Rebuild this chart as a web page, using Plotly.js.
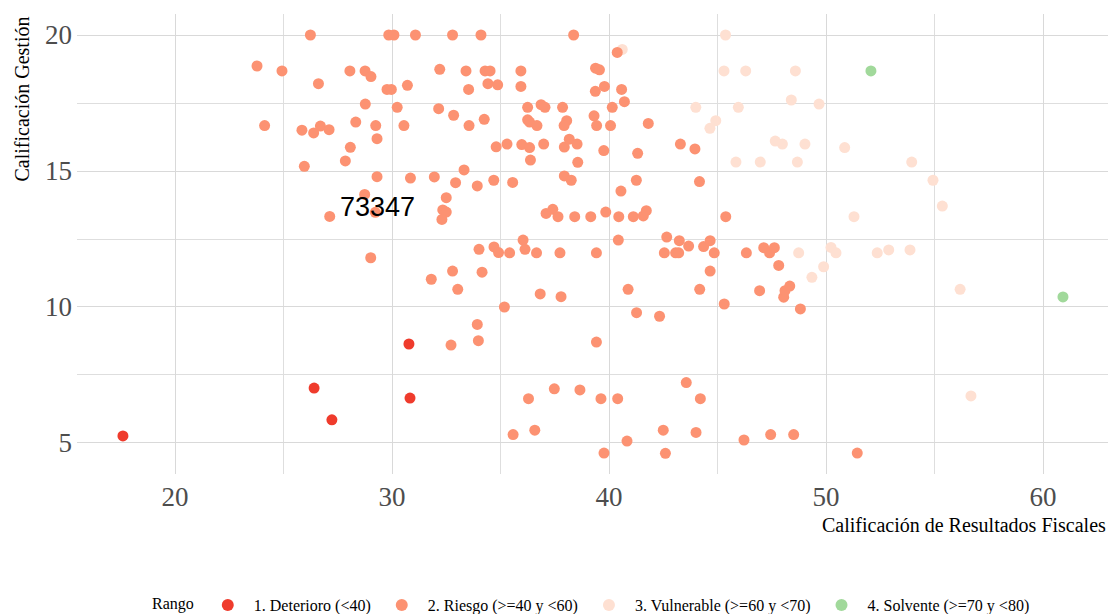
<!DOCTYPE html>
<html>
<head>
<meta charset="utf-8">
<script src="https://cdn.plot.ly/plotly-3.0.1.min.js"></script>
<style>html,body{margin:0;padding:0;background:#fff;}</style>
</head>
<body>
<div id="chart" style="width:1112px;height:614px;"></div>
<script>
// Categories / legend labels
const categories = ["1. Deterioro (<40)", "2. Riesgo (>=40 y <60)", "3. Vulnerable (>=60 y <70)", "4. Solvente (>=70 y <80)"];

// 1. Deterioro
const deterioroX = [17.60, 26.41, 27.23, 30.78, 30.83];
const deterioroY = [5.26, 7.02, 5.85, 8.64, 6.65];

// 4. Solvente
const solventeX = [52.07, 60.92];
const solventeY = [18.68, 10.37];

// 3. Vulnerable
const vulnerableX = [45.37, 40.61, 45.30, 46.30, 48.59, 44.00, 45.96, 48.40, 49.68, 44.92, 44.65, 47.66, 47.99, 49.03, 50.86, 45.85, 46.97, 48.68, 53.95, 54.93, 55.36, 51.29, 48.74, 50.23, 50.46, 52.36, 52.89, 53.87, 49.89, 49.35, 56.18, 56.68];
const vulnerableY = [20.00, 19.47, 18.68, 18.68, 18.68, 17.34, 17.34, 17.61, 17.46, 16.85, 16.57, 16.10, 15.99, 15.99, 15.86, 15.33, 15.33, 15.33, 15.33, 14.66, 13.71, 13.32, 11.99, 12.19, 11.99, 11.99, 12.10, 12.10, 11.48, 11.09, 10.65, 6.73];

// 2. Riesgo
const riesgoX = [
  26.24, 23.78, 24.93, 26.61, 28.06, 28.76, 29.03, 28.77, 24.13, 25.85, 26.39, 26.70, 27.10, 28.33, 29.25, 29.31, 28.08, 27.85, 25.96, 29.31, 28.74, 27.13, 29.23, 29.02,
  29.85, 30.09, 31.08, 32.79, 34.10, 38.37, 40.38, 32.20, 33.41, 34.29, 34.52, 35.94, 39.38, 39.56, 29.77, 29.97, 30.71, 33.53, 34.42, 34.87, 35.94, 39.37, 39.79, 40.58, 40.71, 40.15,
  30.24, 32.15, 32.84, 34.25, 33.55, 30.55, 36.25, 36.87, 37.05, 37.86, 36.25, 36.34, 36.68, 38.05, 37.93, 39.31, 39.43, 40.07, 41.81,
  34.80, 35.30, 35.98, 36.34, 36.38, 36.99, 37.94, 38.17, 38.53, 38.56, 39.76, 41.32, 43.29, 43.96,
  30.85, 31.95, 33.32, 32.93, 33.93, 34.69, 35.56, 37.94, 38.26, 40.55, 41.26, 44.17,
  32.50, 32.34, 32.50, 32.30, 37.10, 37.41, 37.65, 38.42, 39.16, 39.85, 40.45, 41.12, 41.58, 41.72, 45.38,
  36.04, 36.13, 34.01, 34.70, 34.91, 35.42, 36.66, 37.74, 39.42, 40.43, 42.66, 43.24, 43.67, 42.55, 43.07, 43.21, 44.36, 44.66, 44.85, 46.33,
  44.66, 44.18, 45.31, 31.81, 32.79, 33.03, 34.15, 36.83, 37.79, 40.88,
  35.18, 41.27, 42.33, 33.93, 32.72, 33.98, 39.42, 36.29, 37.48, 38.66, 39.63, 40.40, 43.56, 44.21, 35.58, 36.58, 39.77, 40.83, 42.50, 42.60, 44.01, 46.22,
  46.94, 48.05, 48.11, 48.33, 48.82, 47.45, 48.51, 51.44, 47.13, 47.40, 47.62, 47.82
];
const riesgoY = [
  20.00, 18.86, 18.68, 18.21, 18.68, 18.68, 18.47, 17.46, 16.67, 16.50, 16.40, 16.65, 16.52, 16.80, 16.67, 16.19, 15.87, 15.37, 15.17, 14.79, 14.14, 13.33, 13.48, 11.81,
  20.00, 20.00, 20.00, 20.00, 20.00, 20.00, 19.36, 18.74, 18.68, 18.68, 18.68, 18.68, 18.78, 18.72, 18.00, 18.00, 18.15, 18.00, 18.21, 18.17, 18.11, 17.93, 18.11, 18.00, 17.55, 17.34,
  17.34, 17.29, 17.05, 16.90, 16.67, 16.67, 17.34, 17.44, 17.34, 17.34, 16.88, 16.80, 16.67, 16.85, 16.67, 17.03, 16.67, 16.67, 16.75,
  15.89, 15.99, 15.97, 15.86, 15.40, 15.99, 15.88, 16.17, 15.99, 15.32, 15.75, 15.65, 15.99, 15.81,
  14.74, 14.78, 15.04, 14.57, 14.45, 14.66, 14.58, 14.82, 14.66, 14.26, 14.66, 14.61,
  14.02, 13.57, 13.49, 13.22, 13.44, 13.59, 13.32, 13.32, 13.32, 13.49, 13.32, 13.32, 13.35, 13.54, 13.32,
  12.46, 12.12, 12.12, 12.21, 12.00, 11.99, 11.99, 11.99, 11.99, 12.46, 12.57, 12.44, 12.24, 11.99, 11.99, 11.99, 12.22, 12.44, 11.99, 11.99,
  11.32, 10.65, 10.11, 11.02, 11.32, 10.65, 11.28, 10.48, 10.38, 10.65,
  10.00, 9.79, 9.66, 9.36, 8.60, 8.76, 8.71, 6.63, 6.99, 6.95, 6.63, 6.63, 7.22, 6.63, 5.31, 5.47, 4.63, 5.07, 5.47, 4.62, 5.39, 5.11,
  10.60, 10.36, 10.60, 10.77, 9.93, 5.31, 5.31, 4.63, 12.18, 11.99, 12.18, 11.53
];

// Text label
const labelText = "73347";
const labelX = 29.35;
const labelY = 13.68;

const xTicks = [20, 30, 40, 50, 60];
const yTicks = [5, 10, 15, 20];

const colors = ["#EF3B2C", "#FC9272", "#FEE0D2", "#A1D99B"];
const serif = "Liberation Serif, Times New Roman, serif";

function tr(x, y, i, rank) {
  return {
    type: "scatter", mode: "markers", x: x, y: y, name: categories[i],
    legendrank: rank,
    marker: {color: colors[i], size: 11, line: {width: 0}},
    hoverinfo: "x+y"
  };
}

const data = [
  tr(vulnerableX, vulnerableY, 2, 3),
  tr(riesgoX, riesgoY, 1, 2),
  tr(deterioroX, deterioroY, 0, 1),
  tr(solventeX, solventeY, 3, 4)
];

const layout = {
  width: 1112, height: 614,
  margin: {l: 77, r: 4, t: 14, b: 140, autoexpand: false},
  paper_bgcolor: "#fff", plot_bgcolor: "#fff",
  showlegend: true,
  legend: {
    orientation: "h", x: 0.5, xanchor: "center", y: -0.2848, yanchor: "middle",
    font: {family: serif, size: 16, color: "#000"},
    title: {text: "Rango", side: "left", font: {family: serif, size: 16, color: "#000"}},
    itemsizing: "constant", traceorder: "normal", itemwidth: 42
  },
  xaxis: {
    range: [15.484, 62.995],
    tickmode: "array", tickvals: xTicks, ticktext: xTicks.map(String),
    showgrid: true, gridcolor: "#d9d9d9", gridwidth: 1,
    minor: {dtick: 5, tick0: 0, showgrid: true, gridcolor: "#dedede", gridwidth: 1, ticks: ""},
    zeroline: false, showline: false, ticks: "",
    ticklabelstandoff: 4,
    tickfont: {family: serif, size: 27, color: "#4D4D4D"}
  },
  yaxis: {
    range: [3.86, 20.772],
    tickmode: "array", tickvals: yTicks, ticktext: yTicks.map(String),
    showgrid: true, gridcolor: "#d9d9d9", gridwidth: 1,
    minor: {dtick: 2.5, tick0: 0, showgrid: true, gridcolor: "#dedede", gridwidth: 1, ticks: ""},
    zeroline: false, showline: false, ticks: "",
    ticklabelstandoff: 4,
    tickfont: {family: serif, size: 27, color: "#4D4D4D"}
  },
  annotations: [
    {text: labelText, x: labelX, y: labelY, xref: "x", yref: "y", showarrow: false,
     font: {family: "Liberation Sans, Arial, sans-serif", size: 27, color: "#000"}},
    {text: "Calificación Gestión", xref: "paper", yref: "paper", x: -0.0533, y: 0.998,
     xanchor: "center", yanchor: "top", textangle: -90, showarrow: false,
     font: {family: serif, size: 20, color: "#000"}},
    {text: "Calificación de Resultados Fiscales", xref: "paper", yref: "paper", x: 1.0, y: -0.111,
     xanchor: "right", yanchor: "middle", showarrow: false,
     font: {family: serif, size: 20, color: "#000"}}
  ]
};

Plotly.newPlot("chart", data, layout, {displayModeBar: false, staticPlot: true});
</script>
</body>
</html>
